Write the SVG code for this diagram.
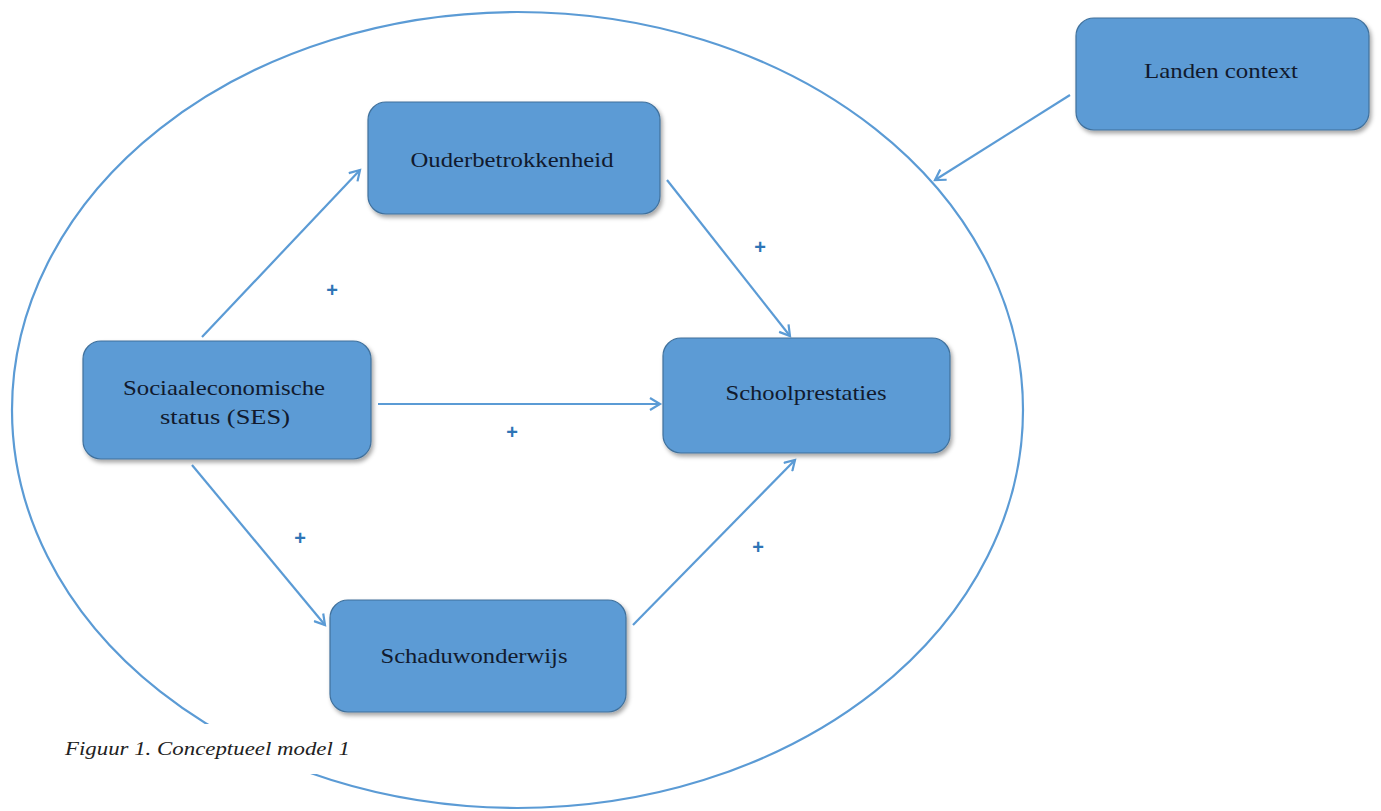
<svg xmlns="http://www.w3.org/2000/svg" width="1381" height="811" viewBox="0 0 1381 811">
<style>
.box{fill:#5b9bd5;stroke:#41719c;stroke-width:1.2;filter:url(#sh)}
.lbl{font-family:"Liberation Serif",serif;font-size:22px;fill:#111a2e;text-anchor:middle}
.con{stroke:#5b9bd5;stroke-width:2.2;fill:none;marker-end:url(#ah)}
.plus{font-family:"Liberation Sans",sans-serif;font-size:20px;font-weight:bold;fill:#2e75b6;text-anchor:middle}
.cap{font-family:"Liberation Serif",serif;font-size:18px;font-style:italic;fill:#222}
</style>
<defs>
<filter id="sh" x="-10%" y="-10%" width="125%" height="130%">
<feDropShadow dx="2" dy="3" stdDeviation="2" flood-color="#000" flood-opacity="0.35"/>
</filter>
<marker id="ah" markerWidth="14" markerHeight="14" refX="11" refY="7" orient="auto" markerUnits="userSpaceOnUse">
<path d="M1,1 L11,7 L1,13" fill="none" stroke="#5b9bd5" stroke-width="2.2"/>
</marker>
</defs>
<rect width="1381" height="811" fill="#fff"/>
<ellipse cx="517.5" cy="410" rx="505.5" ry="398" fill="none" stroke="#5b9bd5" stroke-width="2.2"/>
<rect x="55" y="724" width="305" height="50" fill="#fff"/>
<g id="connectors">
<line class="con" x1="202" y1="337" x2="360" y2="170"/>
<line class="con" x1="667" y1="180" x2="790" y2="336"/>
<line class="con" x1="378" y1="404" x2="660" y2="404"/>
<line class="con" x1="192" y1="465" x2="325" y2="625"/>
<line class="con" x1="633" y1="625" x2="795" y2="460"/>
<line class="con" x1="1070" y1="95" x2="935" y2="180"/>
</g>
<g id="ouder"><rect class="box" x="368" y="102" width="292" height="112" rx="18"/><text class="lbl" x="512" y="167" textLength="203" lengthAdjust="spacingAndGlyphs">Ouderbetrokkenheid</text></g>
<g id="ses"><rect class="box" x="83" y="341" width="288" height="118" rx="18"/><text class="lbl" x="224" y="395" textLength="202" lengthAdjust="spacingAndGlyphs">Sociaaleconomische</text><text class="lbl" x="225" y="424" textLength="130" lengthAdjust="spacingAndGlyphs">status (SES)</text></g>
<g id="school"><rect class="box" x="663" y="338" width="287" height="115" rx="18"/><text class="lbl" x="806" y="400" textLength="161" lengthAdjust="spacingAndGlyphs">Schoolprestaties</text></g>
<g id="schaduw"><rect class="box" x="330" y="600" width="296" height="112" rx="18"/><text class="lbl" x="474" y="663" textLength="187" lengthAdjust="spacingAndGlyphs">Schaduwonderwijs</text></g>
<g id="landen"><rect class="box" x="1076" y="18" width="293" height="112" rx="18"/><text class="lbl" x="1221" y="78" textLength="154" lengthAdjust="spacingAndGlyphs">Landen context</text></g>
<g id="plus">
<text class="plus" x="332" y="297">+</text>
<text class="plus" x="760" y="254">+</text>
<text class="plus" x="512" y="439">+</text>
<text class="plus" x="300" y="545">+</text>
<text class="plus" x="758" y="554">+</text>
</g>
<text class="cap" x="65" y="755" textLength="285" lengthAdjust="spacingAndGlyphs">Figuur 1. Conceptueel model 1</text>
</svg>
